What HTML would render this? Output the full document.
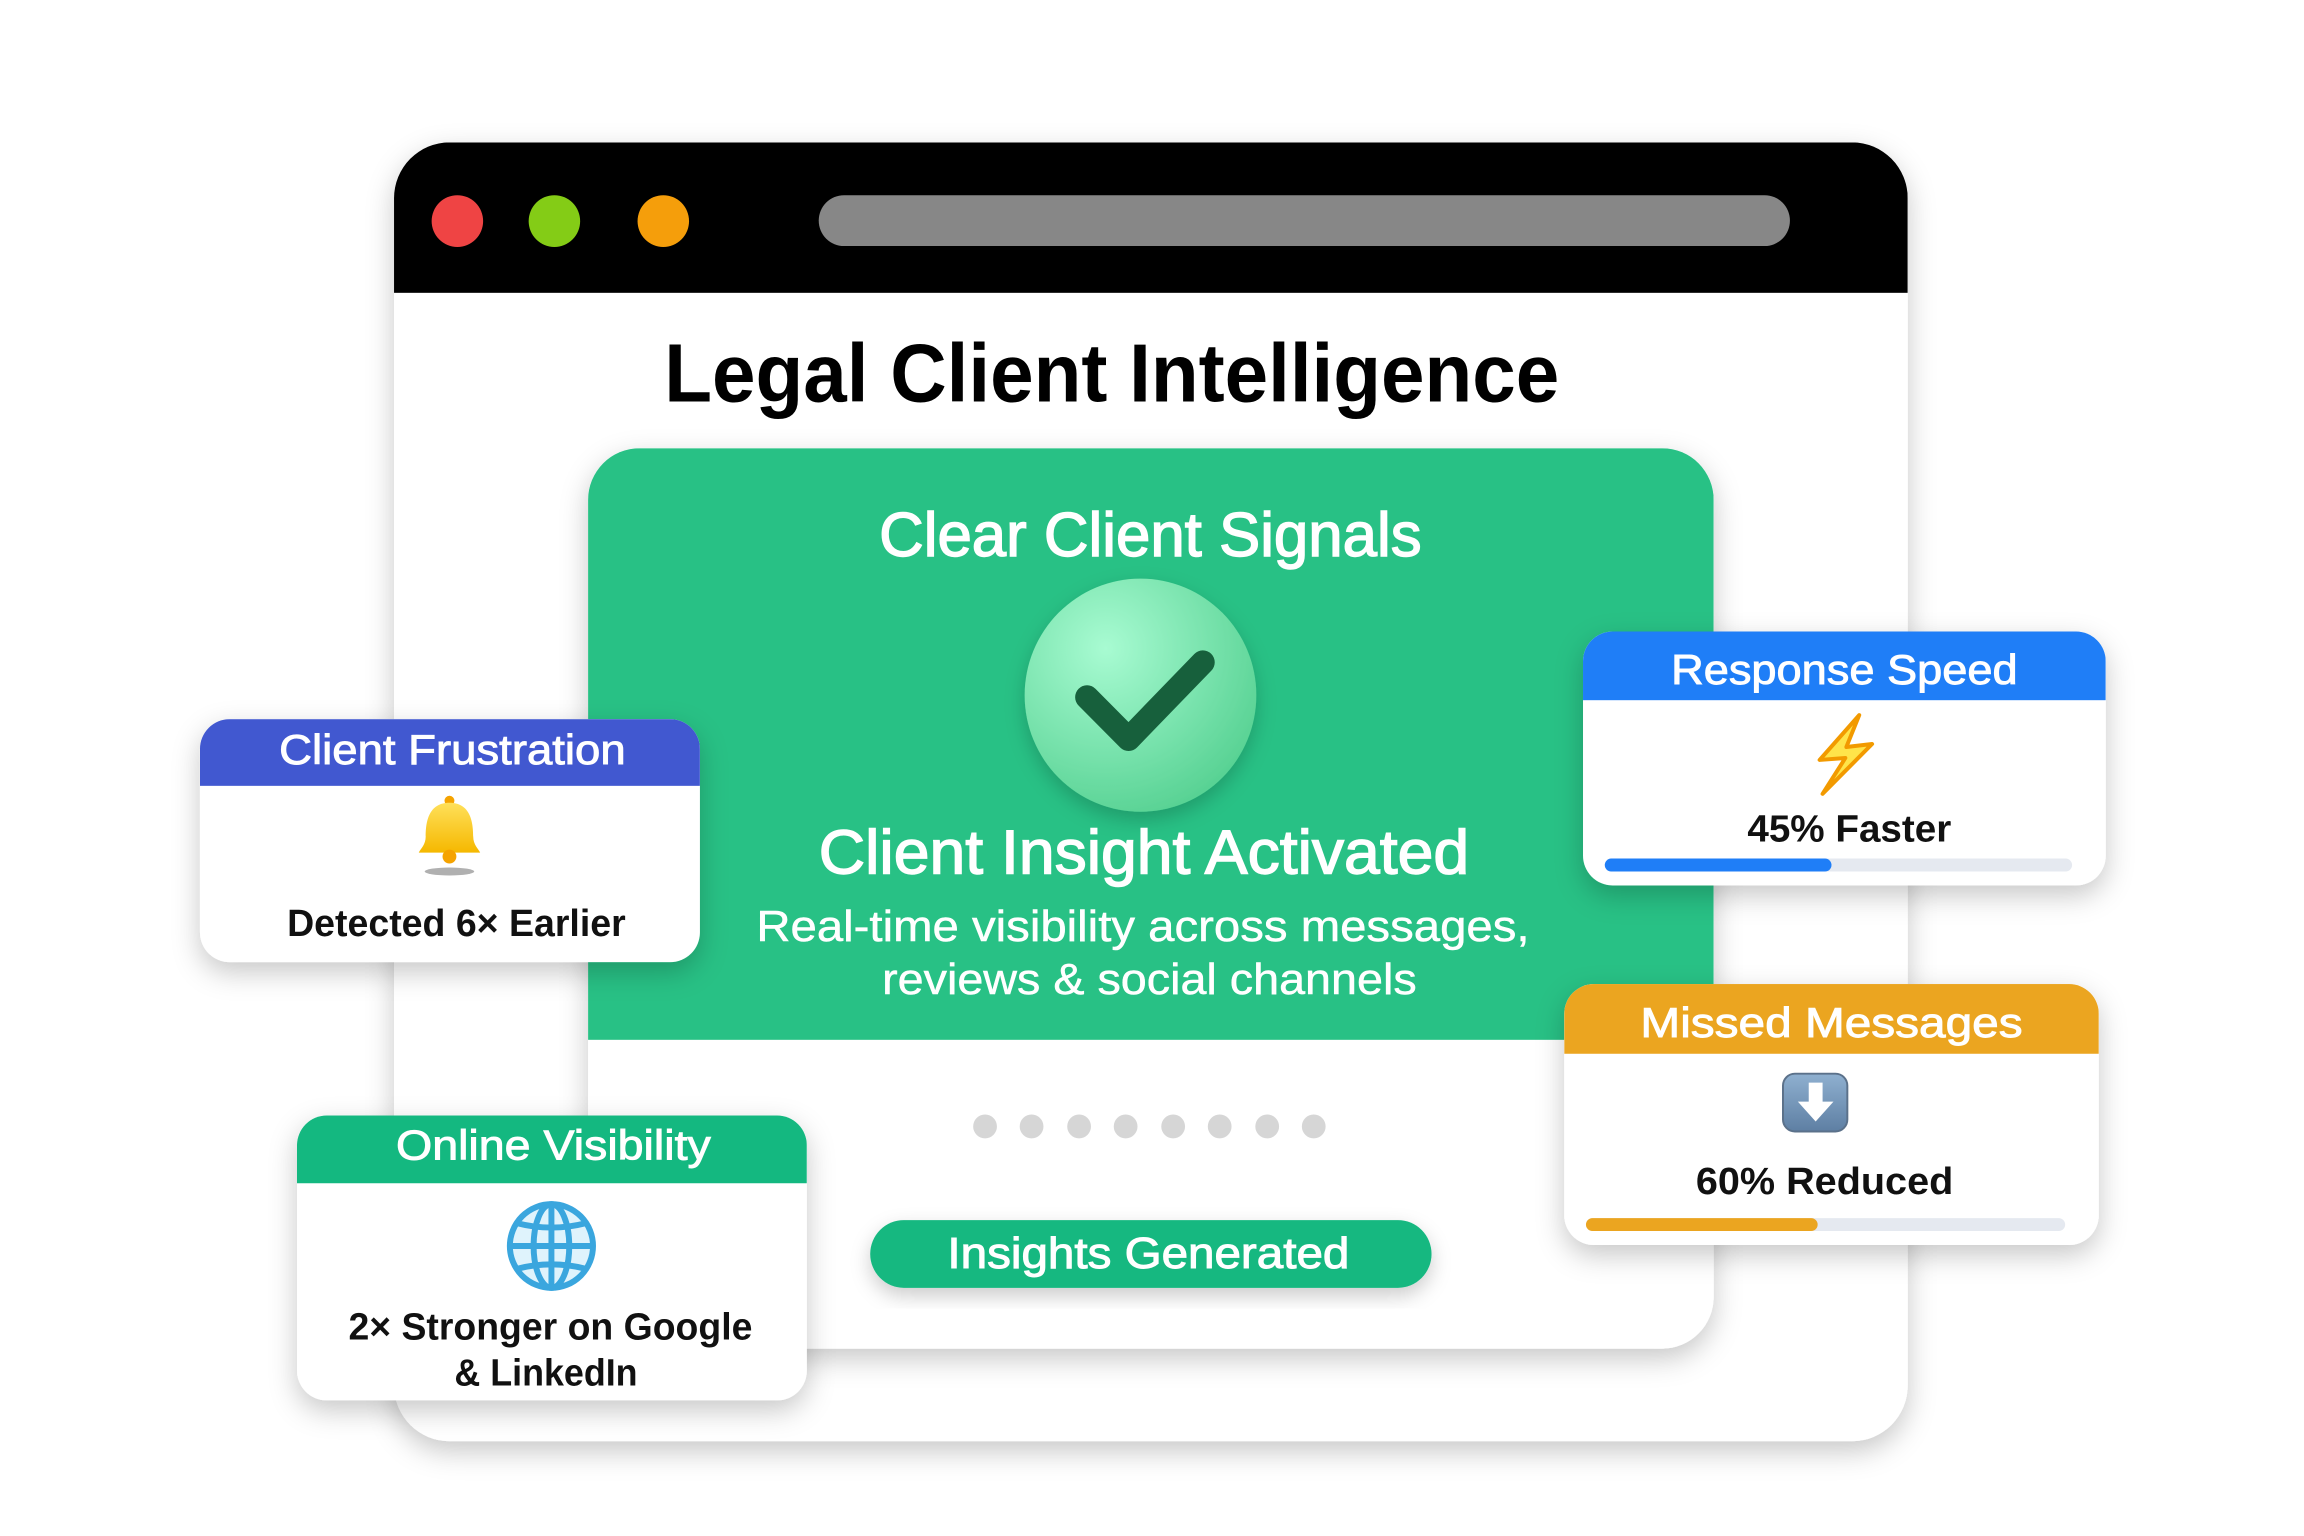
<!DOCTYPE html>
<html><head><meta charset="utf-8"><style>html,body{margin:0;padding:0;background:#fff}svg{display:block}</style></head>
<body>
<svg width="2304" height="1536" viewBox="0 0 2304 1536" xmlns="http://www.w3.org/2000/svg" font-family="'Liberation Sans', sans-serif">
<defs>
<filter id="sh" x="-20%" y="-20%" width="140%" height="150%"><feDropShadow dx="0" dy="10" stdDeviation="14" flood-color="#000" flood-opacity="0.22"/></filter>
<filter id="sh2" x="-20%" y="-20%" width="140%" height="150%"><feDropShadow dx="0" dy="8" stdDeviation="10" flood-color="#000" flood-opacity="0.2"/></filter>
<radialGradient id="cg" cx="0.35" cy="0.3" r="0.8"><stop offset="0" stop-color="#a8fbd2"/><stop offset="1" stop-color="#52cf8f"/></radialGradient>
<linearGradient id="ag" x1="0" y1="0" x2="0" y2="1"><stop offset="0" stop-color="#8fb0d0"/><stop offset="1" stop-color="#5e7fa3"/></linearGradient>
<linearGradient id="bg" x1="0" y1="0" x2="0" y2="1"><stop offset="0" stop-color="#ffe05a"/><stop offset="1" stop-color="#f5b800"/></linearGradient>
<clipPath id="c1"><rect x="202" y="722" width="505" height="244" rx="30"/></clipPath>
<clipPath id="c2"><rect x="300" y="1120" width="515" height="286" rx="30"/></clipPath>
<clipPath id="c3"><rect x="1599" y="634" width="528" height="255" rx="30"/></clipPath>
<clipPath id="c4"><rect x="1580" y="988" width="540" height="262" rx="30"/></clipPath>
<clipPath id="cw"><rect x="398" y="143" width="1529" height="1304" rx="56"/></clipPath>
<clipPath id="ci"><rect x="594" y="450" width="1137" height="904" rx="52"/></clipPath>
</defs>
<g transform="scale(0.99,0.996)">
<!-- window -->
<g filter="url(#sh)"><rect x="398" y="143" width="1529" height="1304" rx="56" fill="#fff"/></g>
<g clip-path="url(#cw)"><rect x="398" y="143" width="1529" height="151" fill="#000"/></g>
<circle cx="462" cy="222" r="26" fill="#ef4444"/>
<circle cx="560" cy="222" r="26" fill="#84cc16"/>
<circle cx="670" cy="222" r="26" fill="#f59e0b"/>
<rect x="827" y="196" width="981" height="51" rx="25.5" fill="#878787"/>
<text x="671" y="403" font-size="83" font-weight="bold" fill="#000" textLength="904" lengthAdjust="spacingAndGlyphs">Legal Client Intelligence</text>

<!-- inner card -->
<g filter="url(#sh)"><rect x="594" y="450" width="1137" height="904" rx="52" fill="#fff"/></g>
<g clip-path="url(#ci)"><rect x="594" y="450" width="1137" height="594" fill="#28c185"/></g>
<text x="888" y="558" font-size="62" fill="#fff" stroke="#fff" stroke-width="1.4" textLength="548" lengthAdjust="spacingAndGlyphs">Clear Client Signals</text>
<circle cx="1152" cy="698" r="117" fill="url(#cg)" filter="url(#sh2)"/>
<polyline points="1098,700 1140,742 1215,665" fill="none" stroke="#17603c" stroke-width="24" stroke-linecap="round" stroke-linejoin="round"/>
<text x="827" y="877" font-size="62" fill="#fff" stroke="#fff" stroke-width="1.4" textLength="657" lengthAdjust="spacingAndGlyphs">Client Insight Activated</text>
<text x="764" y="945" font-size="44" fill="#fff" stroke="#fff" stroke-width="0.5" textLength="781" lengthAdjust="spacingAndGlyphs">Real-time visibility across messages,</text>
<text x="891" y="998" font-size="44" fill="#fff" stroke="#fff" stroke-width="0.5" textLength="540" lengthAdjust="spacingAndGlyphs">reviews &amp; social channels</text>
<g fill="#d6d6d6">
<circle cx="995" cy="1131" r="12"/><circle cx="1042" cy="1131" r="12"/><circle cx="1090" cy="1131" r="12"/><circle cx="1137" cy="1131" r="12"/><circle cx="1185" cy="1131" r="12"/><circle cx="1232" cy="1131" r="12"/><circle cx="1280" cy="1131" r="12"/><circle cx="1327" cy="1131" r="12"/>
</g>
<g filter="url(#sh2)"><rect x="879" y="1225" width="567" height="68" rx="34" fill="#14b880"/></g>
<text x="957" y="1273" font-size="44" fill="#fff" stroke="#fff" stroke-width="1" textLength="406" lengthAdjust="spacingAndGlyphs">Insights Generated</text>

<!-- Client Frustration -->
<g filter="url(#sh)"><rect x="202" y="722" width="505" height="244" rx="30" fill="#fff"/></g>
<g clip-path="url(#c1)"><rect x="202" y="722" width="505" height="67" fill="#4158d0"/></g>
<text x="282" y="767" font-size="42" fill="#fff" stroke="#fff" stroke-width="0.9" textLength="350" lengthAdjust="spacingAndGlyphs">Client Frustration</text>
<g transform="translate(5,0)">
<ellipse cx="449" cy="875" rx="25" ry="4" fill="#b0b0b0"/>
<circle cx="449" cy="804" r="5" fill="#f5a300"/>
<path d="M449,806 C428,806 425,825 425,840 C425,848 420,852 418,856 L480,856 C478,852 473,848 473,840 C473,825 470,806 449,806 Z" fill="url(#bg)"/>
<circle cx="449" cy="860" r="7" fill="#f5a300"/>
</g>
<text x="290" y="940" font-size="38" font-weight="bold" fill="#111" textLength="342" lengthAdjust="spacingAndGlyphs">Detected 6× Earlier</text>

<!-- Online Visibility -->
<g filter="url(#sh)"><rect x="300" y="1120" width="515" height="286" rx="30" fill="#fff"/></g>
<g clip-path="url(#c2)"><rect x="300" y="1120" width="515" height="68" fill="#14b880"/></g>
<text x="400" y="1164" font-size="42" fill="#fff" stroke="#fff" stroke-width="0.9" textLength="318" lengthAdjust="spacingAndGlyphs">Online Visibility</text>
<g fill="none" stroke="#3aa6de" stroke-width="6" transform="translate(6,5)">
<circle cx="551" cy="1246" r="42" fill="#dff3fc"/>
<ellipse cx="551" cy="1246" rx="18" ry="42"/>
<line x1="551" y1="1204" x2="551" y2="1288"/>
<line x1="509" y1="1246" x2="593" y2="1246"/>
<path d="M516,1223 Q551,1232 586,1223 M516,1269 Q551,1260 586,1269"/>
</g>
<text x="352" y="1345" font-size="38" font-weight="bold" fill="#111" textLength="408" lengthAdjust="spacingAndGlyphs">2× Stronger on Google</text>
<text x="459" y="1391" font-size="38" font-weight="bold" fill="#111" textLength="185" lengthAdjust="spacingAndGlyphs">&amp; LinkedIn</text>

<!-- Response Speed -->
<g filter="url(#sh)"><rect x="1599" y="634" width="528" height="255" rx="30" fill="#fff"/></g>
<g clip-path="url(#c3)"><rect x="1599" y="634" width="528" height="69" fill="#1f7ef7"/></g>
<text x="1688" y="687" font-size="42" fill="#fff" stroke="#fff" stroke-width="0.9" textLength="350" lengthAdjust="spacingAndGlyphs">Response Speed</text>
<path d="M1878,718 L1838,763 L1864,761 L1841,797 L1891,747 L1865,750 Z" fill="#ffe44a" stroke="#f29a00" stroke-width="4" stroke-linejoin="round"/>
<text x="1765" y="845" font-size="38" font-weight="bold" fill="#111" textLength="206" lengthAdjust="spacingAndGlyphs">45% Faster</text>
<rect x="1621" y="862" width="472" height="13" rx="6.5" fill="#e5e9f0"/>
<rect x="1621" y="862" width="229" height="13" rx="6.5" fill="#1f7ef7"/>

<!-- Missed Messages -->
<g filter="url(#sh)"><rect x="1580" y="988" width="540" height="262" rx="30" fill="#fff"/></g>
<g clip-path="url(#c4)"><rect x="1580" y="988" width="540" height="70" fill="#eba520"/></g>
<text x="1657" y="1041" font-size="42" fill="#fff" stroke="#fff" stroke-width="0.9" textLength="386" lengthAdjust="spacingAndGlyphs">Missed Messages</text>
<rect x="1801" y="1078" width="65" height="58" rx="12" fill="url(#ag)" stroke="#5b718a" stroke-width="2"/>
<path d="M1827,1087 L1841,1087 L1841,1106 L1852,1106 L1834,1126 L1816,1106 L1827,1106 Z" fill="#fff"/>
<text x="1713" y="1199" font-size="38" font-weight="bold" fill="#111" textLength="260" lengthAdjust="spacingAndGlyphs">60% Reduced</text>
<rect x="1602" y="1223" width="484" height="13" rx="6.5" fill="#e5e9f0"/>
<rect x="1602" y="1223" width="234" height="13" rx="6.5" fill="#eba520"/>
</g>
</svg>
</body></html>
